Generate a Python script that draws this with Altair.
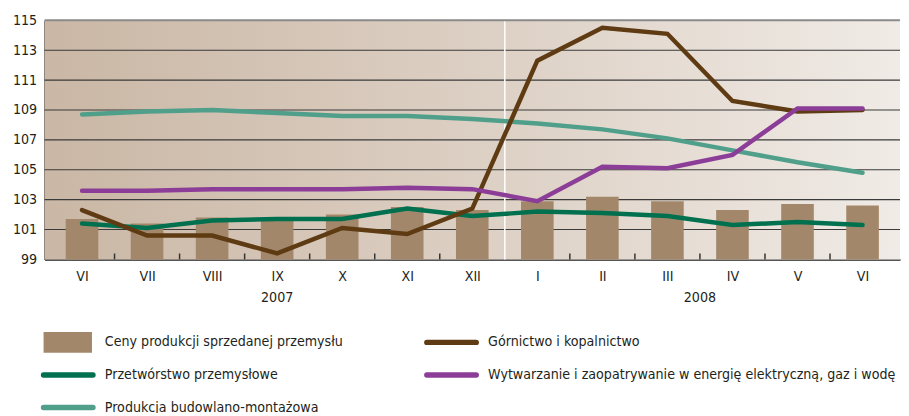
import altair as alt
import pandas as pd

months = ["VI", "VII", "VIII", "IX", "X", "XI", "XII", "I", "II", "III", "IV", "V", "VI"]
years = [2007] * 7 + [2008] * 6
ceny = [101.7, 101.4, 101.8, 101.6, 102.0, 102.5, 102.3, 102.9, 103.2, 102.9, 102.3, 102.7, 102.6]
gornictwo = [102.3, 100.6, 100.6, 99.4, 101.1, 100.7, 102.4, 112.3, 114.5, 114.1, 109.6, 108.9, 109.0]
przetworstwo = [101.4, 101.1, 101.6, 101.7, 101.7, 102.4, 101.9, 102.2, 102.1, 101.9, 101.3, 101.5, 101.3]
wytwarzanie = [103.6, 103.6, 103.7, 103.7, 103.7, 103.8, 103.7, 102.9, 105.2, 105.1, 106.0, 109.1, 109.1]
budowlano = [108.7, 108.9, 109.0, 108.8, 108.6, 108.6, 108.4, 108.1, 107.7, 107.1, 106.3, 105.5, 104.8]
y_ticks = [99, 101, 103, 105, 107, 109, 111, 113, 115]

names = {
    "ceny": "Ceny produkcji sprzedanej przemysłu",
    "gorn": "Górnictwo i kopalnictwo",
    "prze": "Przetwórstwo przemysłowe",
    "wytw": "Wytwarzanie i zaopatrywanie w energię elektryczną, gaz i wodę",
    "budo": "Produkcja budowlano-montażowa",
}
colors = {
    "ceny": "#a3876a",
    "gorn": "#5e3b12",
    "prze": "#00704f",
    "wytw": "#8b3d98",
    "budo": "#4f9f8a",
}

FONT = "DejaVu Sans Condensed"
FS = 14.3
FS_LEG = 14.3
W, H = 866, 242

idx = list(range(len(months)))
bars_df = pd.DataFrame({"idx": idx, "value": ceny})
series = {"budo": budowlano, "prze": przetworstwo, "gorn": gornictwo, "wytw": wytwarzanie}
lines_df = pd.concat(
    [pd.DataFrame({"idx": idx, "value": v, "key": k}) for k, v in series.items()]
)
year_df = pd.DataFrame({"idx": idx, "year": years}).groupby("year", as_index=False)["idx"].mean()
year_df["year"] = year_df["year"].astype(str)
last2007 = max(i for i, y in zip(idx, years) if y == 2007)
split_df = pd.DataFrame({"x": [last2007 + 0.5]})
tick_df = pd.DataFrame({"x": [i + 0.5 for i in idx[:-1] if i != last2007]})
grid_df = pd.DataFrame({"y": y_ticks[1:-1]})
top_df = pd.DataFrame({"y": [y_ticks[-1]]})

xscale = alt.Scale(domain=[-0.5, len(months) - 0.5], nice=False, zero=False)
yscale = alt.Scale(domain=[y_ticks[0], y_ticks[-1]], nice=False, zero=False)
label_expr = "[" + ",".join("'%s'" % m for m in months) + "][datum.value]"

xaxis = alt.Axis(
    values=idx, labelExpr=label_expr, title=None, ticks=False, grid=False,
    domainColor="#555555", domainWidth=2, labelPadding=10,
    labelFontSize=FS, labelColor="#231f20", labelFont=FONT, labelOverlap=False,
)
yaxis = alt.Axis(
    values=y_ticks, title=None, ticks=False, grid=False,
    domainColor="#555555", domainWidth=2, labelPadding=8,
    labelFontSize=FS, labelColor="#231f20", labelFont=FONT, labelOverlap=False,
)


def X(field):
    return alt.X(field, scale=xscale, axis=xaxis)


def Y(field):
    return alt.Y(field, scale=yscale, axis=yaxis)


bg = alt.Chart(pd.DataFrame({"a": [0]})).mark_rect(
    color=alt.Gradient(
        gradient="linear",
        stops=[
            alt.GradientStop(color="#cab7a5", offset=0),
            alt.GradientStop(color="#dccfc3", offset=0.5),
            alt.GradientStop(color="#f0ebe6", offset=1),
        ],
        x1=0, x2=1, y1=0, y2=0,
    )
).encode(x=alt.value(0), x2=alt.value(W), y=alt.value(0), y2=alt.value(H))

bars = alt.Chart(bars_df).mark_bar(size=33, color=colors["ceny"]).encode(
    x=X("idx:Q"), y=Y("value:Q"), y2=alt.datum(y_ticks[0])
)

grid = alt.Chart(grid_df).mark_rule(color="#3a3a3a", strokeWidth=1.2).encode(y=Y("y:Q"))

split = alt.Chart(split_df).mark_rule(color="white", strokeWidth=1.5).encode(
    x=X("x:Q"), y=alt.value(0), y2=alt.value(H)
)

ticks = alt.Chart(tick_df).mark_rule(color="#333333", strokeWidth=1.5).encode(
    x=X("x:Q"), y=alt.value(H), y2=alt.value(H - 6)
)

line_layers = []
for k in ["budo", "prze", "gorn", "wytw"]:
    line_layers.append(
        alt.Chart(lines_df)
        .transform_filter(alt.datum.key == k)
        .mark_line(color=colors[k], strokeWidth=4.5, strokeCap="round")
        .encode(x=X("idx:Q"), y=Y("value:Q"))
    )

top_line = alt.Chart(top_df).mark_rule(color="#8a8a8a", strokeWidth=2).encode(y=Y("y:Q"))

year_text = alt.Chart(year_df).mark_text(
    fontSize=FS, font=FONT, color="#231f20", baseline="middle"
).encode(x=X("idx:Q"), y=alt.value(H + 39), text="year:N")

main = alt.layer(
    bg, grid, split, ticks, bars, *line_layers, top_line, year_text
).properties(width=W, height=H, view=alt.ViewBackground(strokeOpacity=0, strokeWidth=0))

# legend panel
leg_df = pd.DataFrame(
    {
        "key": ["ceny", "gorn", "prze", "wytw", "budo"],
        "col": [0, 1, 0, 1, 0],
        "row": [0, 0, 1, 1, 2],
    }
)
leg_df["label"] = leg_df["key"].map(names)
cscale = alt.Scale(domain=list(colors.keys()), range=list(colors.values()))
lx = alt.X("col:O", scale=alt.Scale(type="point", range=[-1, 387], padding=0), axis=None)
ly = alt.Y("row:O", scale=alt.Scale(type="point", range=[29, 95], padding=0), axis=None)

leg_rect = alt.Chart(leg_df).transform_filter(alt.datum.key == "ceny").mark_rect(
    x2Offset=49, yOffset=-10.5, y2Offset=10.5
).encode(x=lx, x2="col:O", y=ly, y2="row:O",
         color=alt.Color("key:N", scale=cscale, legend=None))

leg_line = alt.Chart(leg_df).transform_filter(alt.datum.key != "ceny").mark_rule(
    x2Offset=50, strokeWidth=5.5, strokeCap="round"
).encode(x=lx, x2="col:O", y=ly,
         color=alt.Color("key:N", scale=cscale, legend=None))

leg_text = alt.Chart(leg_df).mark_text(
    align="left", baseline="middle", dx=62, fontSize=FS_LEG, font=FONT, color="#231f20",
).encode(x=lx, y=ly, text="label:N")

legend = alt.layer(leg_rect, leg_line, leg_text).properties(
    width=430, height=99, view=alt.ViewBackground(strokeOpacity=0, strokeWidth=0)
)

chart = (
    alt.vconcat(main, legend, spacing=8)
    .properties(padding={"left": 4, "top": 3, "right": 0, "bottom": -5})
    .configure_view(strokeOpacity=0, strokeWidth=0)
    .configure(background="white")
)

chart.save("out.html", embed_options={"renderer": "svg", "actions": False})
